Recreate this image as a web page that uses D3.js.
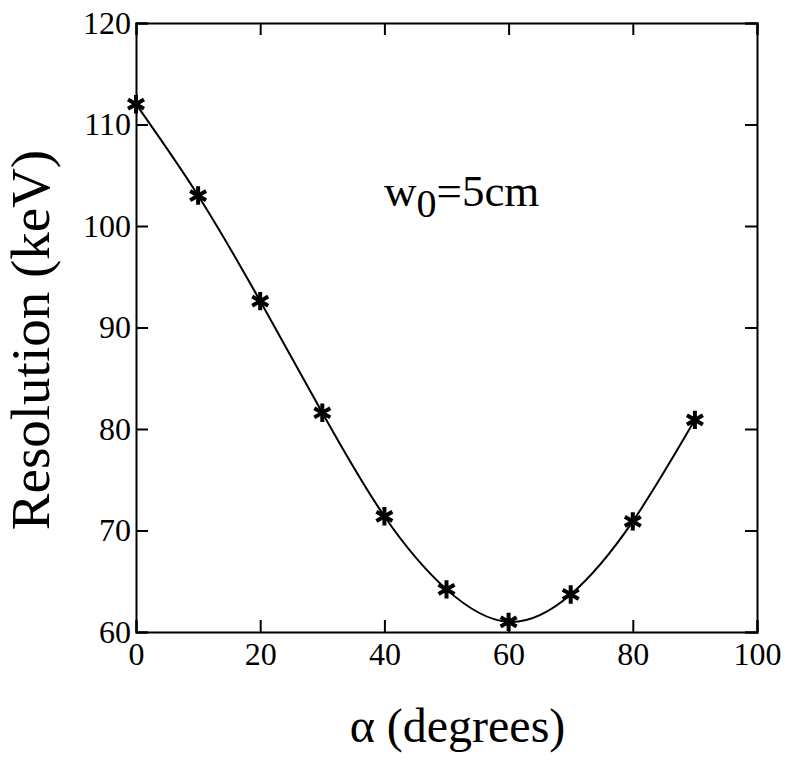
<!DOCTYPE html>
<html><head><meta charset="utf-8">
<script src="https://cdn.jsdelivr.net/npm/d3@7/dist/d3.min.js"></script>
<style>body{margin:0;background:#fff}svg{display:block}</style>
</head><body>
<script>
const alphaDeg = [0, 10, 20, 30, 40, 50, 60, 70, 80, 90];
const resolution = [112.0, 103.0, 92.6, 81.6, 71.4, 64.2, 61.0, 63.7, 70.9, 80.9];
const xTicks = [0, 20, 40, 60, 80, 100];
const yTicks = [60, 70, 80, 90, 100, 110, 120];

const W = 788, H = 760;
const m = {left: 136, right: 757, top: 23, bottom: 632};
const svg = d3.select("body").append("svg").attr("width", W).attr("height", H);
const font = "'Liberation Serif', 'Times New Roman', serif";

const x = d3.scaleLinear().domain([0, 100]).range([m.left, m.right]);
const y = d3.scaleLinear().domain([60, 120]).range([m.bottom, m.top]);

const tl = 12;
svg.append("g").attr("transform", `translate(0,${m.bottom})`)
  .call(d3.axisBottom(x).tickValues(xTicks).tickSize(-tl).tickPadding(10).tickFormat(d3.format("d")));
svg.append("g").attr("transform", `translate(0,${m.top})`)
  .call(d3.axisTop(x).tickValues(xTicks).tickSize(-tl).tickFormat(""));
svg.append("g").attr("transform", `translate(${m.left},0)`)
  .call(d3.axisLeft(y).tickValues(yTicks).tickSize(-tl).tickPadding(5).tickFormat(d3.format("d")));
svg.append("g").attr("transform", `translate(${m.right},0)`)
  .call(d3.axisRight(y).tickValues(yTicks).tickSize(-tl).tickFormat(""));

svg.selectAll(".domain").attr("stroke", "#000").attr("stroke-width", 2);
svg.selectAll(".tick line").attr("stroke", "#000").attr("stroke-width", 2);
svg.selectAll(".tick text").attr("font-family", font).attr("font-size", 32).attr("fill", "#000");

const line = d3.line().x((d, i) => x(alphaDeg[i])).y(d => y(d)).curve(d3.curveNatural);
svg.append("path").datum(resolution).attr("d", line)
  .attr("fill", "none").attr("stroke", "#000").attr("stroke-width", 2);

const sym = d3.symbol().type(d3.symbolAsterisk).size(240);
svg.selectAll(".pt").data(resolution).enter().append("path")
  .attr("d", sym)
  .attr("transform", (d, i) => `translate(${x(alphaDeg[i])},${y(d)})`)
  .attr("stroke", "#000").attr("stroke-width", 4).attr("fill", "none");

const ann = svg.append("text").attr("x", 384).attr("y", 206)
  .attr("font-family", font).attr("font-size", 45).attr("fill", "#000");
ann.append("tspan").text("w");
ann.append("tspan").attr("font-size", 40).attr("dy", 11).text("0");
ann.append("tspan").attr("dy", -11).text("=5cm");

svg.append("text").attr("x", (m.left + m.right) / 2 + 11).attr("y", 742)
  .attr("text-anchor", "middle").attr("font-family", font).attr("font-size", 48).attr("fill", "#000")
  .text("α (degrees)");
svg.append("text").attr("transform", "translate(49,340) rotate(-90)")
  .attr("text-anchor", "middle").attr("font-family", font).attr("font-size", 55).attr("fill", "#000")
  .text("Resolution (keV)");
</script>
</body></html>
